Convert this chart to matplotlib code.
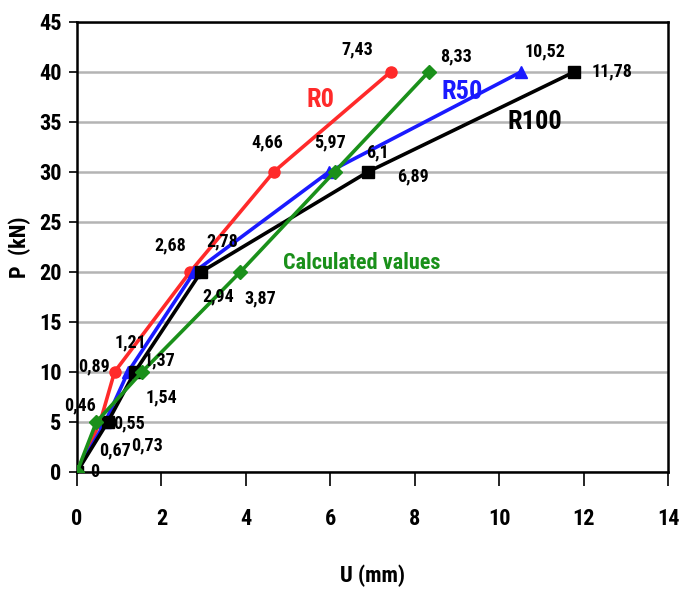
import matplotlib.pyplot as plt

plt.rcParams['font.family'] = ['Roboto Condensed', 'Liberation Sans', 'DejaVu Sans']
W = 800

# data: load P (kN) vs displacement U (mm)
load = [0, 5, 10, 20, 30, 40]
u_r0 = [0, 0.55, 0.89, 2.68, 4.66, 7.43]
u_r50 = [0, 0.67, 1.21, 2.78, 5.97, 10.52]
u_r100 = [0, 0.73, 1.37, 2.94, 6.89, 11.78]
u_calc = [0, 0.46, 1.54, 3.87, 6.1, 8.33]

# value labels: (series, index, text, dx px, dy px)
labels = [
    ('r0', 5, '7,43', -33, 22), ('calc', 5, '8,33', 27, 15),
    ('r50', 5, '10,52', 24, 20), ('r100', 5, '11,78', 38, 0),
    ('r0', 4, '4,66', -6, 29), ('r50', 4, '5,97', 1, 29),
    ('calc', 4, '6,1', 43, 19), ('r100', 4, '6,89', 45, -5),
    ('r0', 3, '2,68', -20, 27), ('r50', 3, '2,78', 28, 31),
    ('r100', 3, '2,94', 17, -24), ('calc', 3, '3,87', 20, -26),
    ('r50', 2, '1,21', 2, 30), ('r0', 2, '0,89', -21, 6),
    ('r100', 2, '1,37', 25, 12), ('calc', 2, '1,54', 19, -25),
    ('calc', 1, '0,46', -16, 17), ('r0', 1, '0,55', 29, -1),
    ('r50', 1, '0,67', 10, -28), ('r100', 1, '0,73', 39, -23),
    ('calc', 0, '0', 18, 0),
]

fig = plt.figure(figsize=(6.81, 5.90), dpi=100)
ax = fig.add_axes([0.113, 0.2, 0.868, 0.763])

series = {
    'r0': (u_r0, '#ff2a2a', 'o'),
    'r50': (u_r50, '#1a1aff', '^'),
    'r100': (u_r100, 'black', 's'),
    'calc': (u_calc, '#1a901a', 'D'),
}
for z, key in enumerate(['r0', 'r50', 'r100', 'calc']):
    xs, c, m = series[key]
    ax.plot(xs, load, color=c, marker=m, lw=2.6, ms=8 if m != 'D' else 7,
            zorder=3 + z)

for key, i, txt, dx, dy in labels:
    xs = series[key][0]
    ax.annotate(txt, (xs[i], load[i]), xytext=(dx, dy),
                textcoords='offset pixels', ha='center', va='center',
                fontsize=13, fontweight=W, color='black', zorder=10)

ax.text(5.76, 37.2, 'R0', color='#ff2a2a', fontsize=19, fontweight=W,
        ha='center', va='center')
ax.text(9.12, 38.0, 'R50', color='#1a1aff', fontsize=19, fontweight=W,
        ha='center', va='center')
ax.text(10.85, 35.0, 'R100', color='black', fontsize=19, fontweight=W,
        ha='center', va='center')
ax.text(6.75, 20.9, 'Calculated values', color='#1a901a', fontsize=16,
        fontweight=W, ha='center', va='center')

ax.set_xlim(0, 14)
ax.set_ylim(0, 45)
ax.set_xticks(range(0, 15, 2))
ax.set_yticks(range(0, 46, 5))
ax.yaxis.grid(True, color='#b4b4b4', lw=1.8)
ax.set_axisbelow(True)
for s in ax.spines.values():
    s.set_linewidth(1.8)
ax.tick_params(axis='x', length=10, width=1.2, pad=16, labelsize=16)
ax.tick_params(axis='y', length=6, width=1.2, pad=5, labelsize=16)
for t in ax.get_xticklabels() + ax.get_yticklabels():
    t.set_fontweight(W)
ax.set_xlabel('U (mm)', fontsize=16, fontweight=W, labelpad=25)
ax.set_ylabel('P  (kN)', fontsize=16, fontweight=W, labelpad=6)

fig.savefig('out.png', dpi=100)
